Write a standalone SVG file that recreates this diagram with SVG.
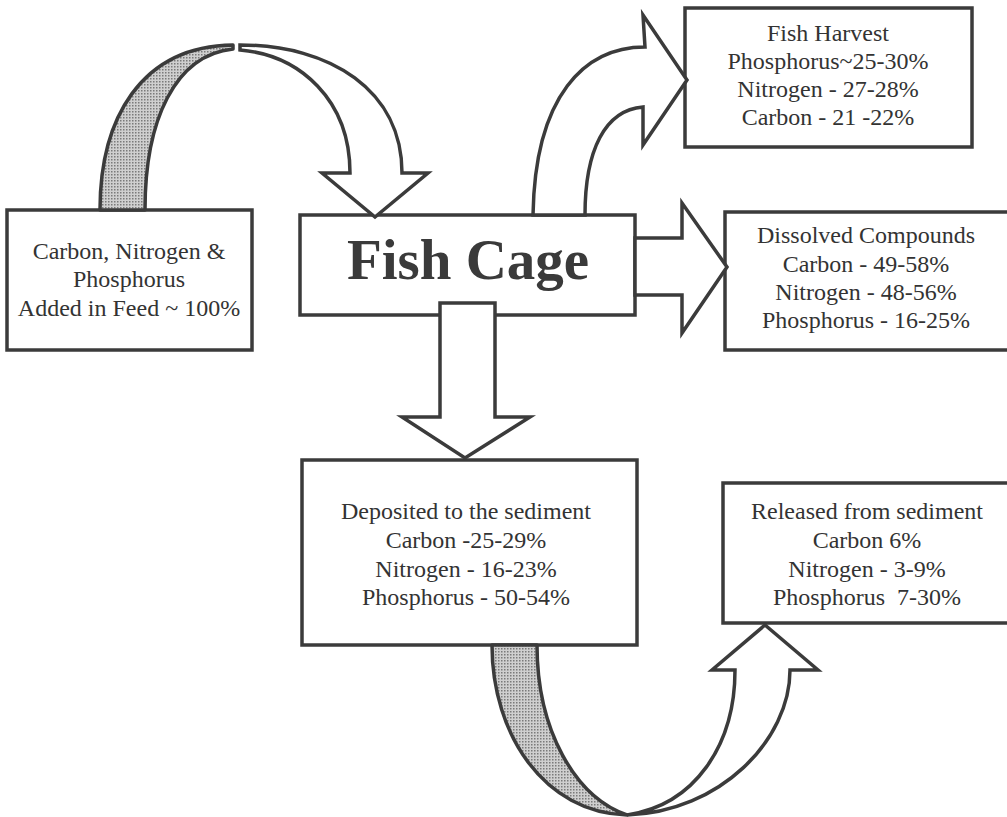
<svg xmlns="http://www.w3.org/2000/svg" width="1007" height="817" viewBox="0 0 1007 817">
<defs>
<pattern id="stip" width="3" height="3" patternUnits="userSpaceOnUse">
<rect width="3" height="3" fill="#cfcfcf"/>
<rect width="1.5" height="1.5" fill="#7a7a7a"/>
</pattern>
<style>
.box{fill:#ffffff;stroke:#3b3b3b;stroke-width:3.5}
.arr{fill:#ffffff;stroke:#3b3b3b;stroke-width:3.5;stroke-linejoin:miter}
.band{fill:url(#stip);stroke:#3b3b3b;stroke-width:3.5;stroke-linejoin:round}
.t{font-family:"Liberation Serif","Times New Roman",serif;font-size:24px;fill:#333333;text-anchor:middle;white-space:pre}
.big{font-family:"Liberation Serif","Times New Roman",serif;font-size:57px;font-weight:bold;fill:#3a3a3a;text-anchor:middle}
</style>
</defs>
<rect width="1007" height="817" fill="#ffffff"/>

<g id="feed">
<rect class="box" x="7" y="210" width="245" height="140"/>
<text class="t" x="129" y="259">Carbon, Nitrogen &amp;</text>
<text class="t" x="129" y="287">Phosphorus</text>
<text class="t" x="129" y="316">Added in Feed ~ 100%</text>
</g>

<g id="cage">
<rect class="box" x="300" y="215" width="335" height="100"/>
<text class="big" x="468" y="279">Fish Cage</text>
</g>

<g id="harvest">
<rect class="box" x="685" y="8" width="287" height="139"/>
<text class="t" x="828" y="41">Fish Harvest</text>
<text class="t" x="828" y="69">Phosphorus~25-30%</text>
<text class="t" x="828" y="97">Nitrogen - 27-28%</text>
<text class="t" x="828" y="125">Carbon - 21 -22%</text>
</g>

<g id="dissolved">
<rect class="box" x="725" y="212" width="290" height="138"/>
<text class="t" x="866" y="243">Dissolved Compounds</text>
<text class="t" x="866" y="272">Carbon - 49-58%</text>
<text class="t" x="866" y="300">Nitrogen - 48-56%</text>
<text class="t" x="866" y="328">Phosphorus - 16-25%</text>
</g>

<g id="deposited">
<rect class="box" x="302" y="460" width="335" height="185"/>
<text class="t" x="466" y="519">Deposited to the sediment</text>
<text class="t" x="466" y="548">Carbon -25-29%</text>
<text class="t" x="466" y="577">Nitrogen - 16-23%</text>
<text class="t" x="466" y="605">Phosphorus - 50-54%</text>
</g>

<g id="released">
<rect class="box" x="723" y="483" width="292" height="140"/>
<text class="t" x="867" y="519">Released from sediment</text>
<text class="t" x="867" y="548">Carbon 6%</text>
<text class="t" x="867" y="577">Nitrogen - 3-9%</text>
<text class="t" x="867" y="605">Phosphorus  7-30%</text>
</g>

<g id="connectors">
<path class="band" d="M100,210 C100,120 140,46 233,45 L233,49 C175,55 145,120 145,210 Z"/>
<path class="arr" d="M240,45 C330,45 402,90 402,173 L428,173 L375,217 L322,173 L350,173 C350,100 300,55 240,50 Z"/>
<path class="arr" d="M533,215 C535,95 585,47 645,47 L643,15 L687,80 L643,145 L643,107 C605,110 585,150 585,215 Z"/>
<path class="arr" d="M635,238 L682,238 L682,203 L727,267 L682,333 L682,295 L635,295 Z"/>
<path class="arr" d="M440,303 L495,303 L495,417 L530,417 L465,458 L402,417 L440,417 Z"/>
<path class="band" d="M492,645 C492,735 545,813 627,815 C575,797 537,730 537,645 Z"/>
<path class="arr" d="M627,815 C720,812 790,740 790,670 L818,670 L765,625 L712,670 L735,670 C735,745 695,805 627,815 Z"/>
</g>
</svg>
